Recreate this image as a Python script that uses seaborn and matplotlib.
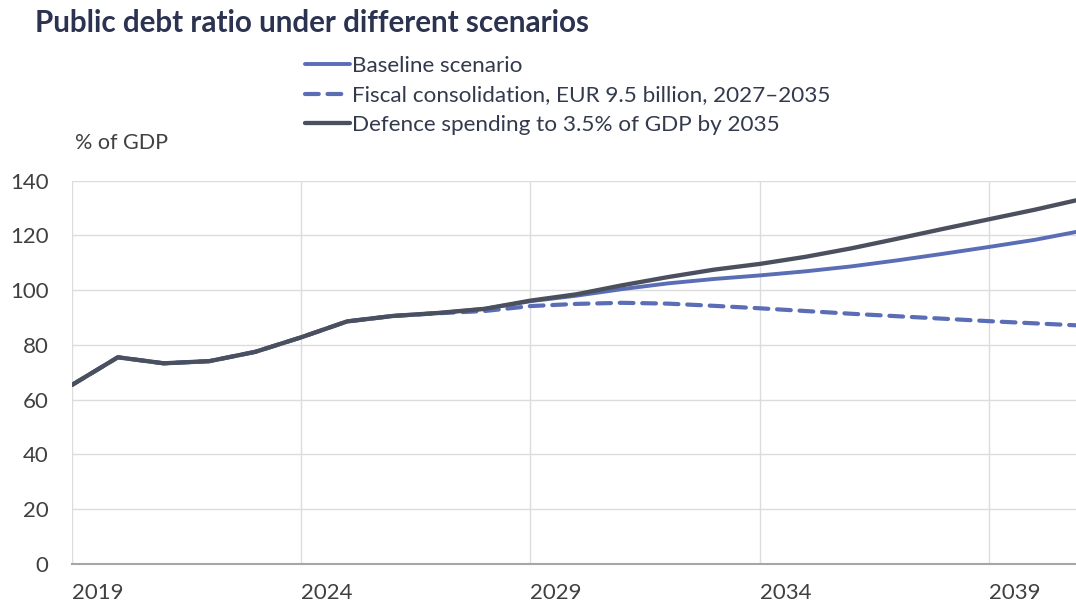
import matplotlib
matplotlib.use("Agg")
import matplotlib.pyplot as plt
import seaborn as sns
import pandas as pd

years = list(range(2019, 2042))
baseline = [65.4, 75.5, 73.3, 74.1, 77.5, 82.8, 88.6, 90.6, 91.7, 93.2, 96.0,
            98.0, 100.4, 102.5, 104.1, 105.4, 106.9, 108.7, 110.9, 113.3, 115.8, 118.4, 121.6]
fiscal = [65.4, 75.5, 73.3, 74.1, 77.5, 82.8, 88.6, 90.6, 91.6, 92.4, 94.2,
          95.0, 95.4, 95.1, 94.3, 93.4, 92.4, 91.4, 90.5, 89.6, 88.7, 87.9, 87.1]
defence = [65.4, 75.5, 73.3, 74.1, 77.5, 82.8, 88.6, 90.6, 91.7, 93.2, 96.2,
           98.5, 101.8, 104.8, 107.5, 109.6, 112.2, 115.3, 118.8, 122.4, 125.9, 129.4, 133.2]
series_names = ["Baseline scenario",
                "Fiscal consolidation, EUR 9.5 billion, 2027\u20132035",
                "Defence spending to 3.5% of GDP by 2035"]
x_ticks = [2019, 2024, 2029, 2034, 2039]
y_ticks = [0, 20, 40, 60, 80, 100, 120, 140]

sns.set_theme(style="white")
plt.rcParams['font.family'] = ['Lato', 'DejaVu Sans']

blue = "#5a6db5"
dark = "#4a505e"
text_col = "#404040"

fig = plt.figure(figsize=(10.76, 6.07), dpi=100)
ax = fig.add_axes([72/1076, 43/607, 1004/1076, 383.3/607])

df = pd.DataFrame({"year": years, "baseline": baseline, "fiscal": fiscal, "defence": defence})

sns.lineplot(data=df, x="year", y="baseline", ax=ax, color=blue, linewidth=2.8,
             label=series_names[0], solid_capstyle="round")
sns.lineplot(data=df, x="year", y="fiscal", ax=ax, color=blue, linewidth=3.0,
             label=series_names[1], dashes=False)
ax.lines[-1].set_dashes([3.3, 2.1])
ax.lines[-1].set_dash_capstyle("round")
sns.lineplot(data=df, x="year", y="defence", ax=ax, color=dark, linewidth=3.1,
             label=series_names[2], solid_capstyle="round")

ax.set_xlim(2019, 2040.9)
ax.set_ylim(0, 140)
ax.set_xticks(x_ticks)
ax.set_xticklabels([str(t) for t in x_ticks], ha="left")
ax.set_yticks(y_ticks)
ax.set_xlabel("")
ax.set_ylabel("")
ax.tick_params(axis="both", labelsize=16, colors=text_col, length=0)
ax.tick_params(axis="x", pad=14)
ax.tick_params(axis="y", pad=17)
for lab in ax.get_yticklabels():
    lab.set_color(text_col)
for lab in ax.get_xticklabels():
    lab.set_color(text_col)

ax.grid(True, color="#dcdcdc", linewidth=1.0)
ax.set_axisbelow(True)
for s in ["top", "right", "left"]:
    ax.spines[s].set_visible(False)
ax.spines["bottom"].set_color("#a6a6a6")
ax.spines["bottom"].set_linewidth(1.5)

leg = ax.legend(loc="upper left", bbox_to_anchor=(305/1076, 1 - 56/607), bbox_transform=fig.transFigure,
                frameon=False, fontsize=16.2, handlelength=2.0, handletextpad=0.1,
                labelspacing=0.42, borderaxespad=0, borderpad=0)
for t in leg.get_texts():
    t.set_color("#333a4d")

fig.text(35/1076, 1 - 23/607, "Public debt ratio under different scenarios",
         fontsize=21.3, fontweight="bold", color="#2b3350", va="center", ha="left")
fig.text(75/1076, 1 - 143/607, "% of GDP", fontsize=15.5, color=text_col, va="center", ha="left")

fig.savefig("out.png", dpi=100)
